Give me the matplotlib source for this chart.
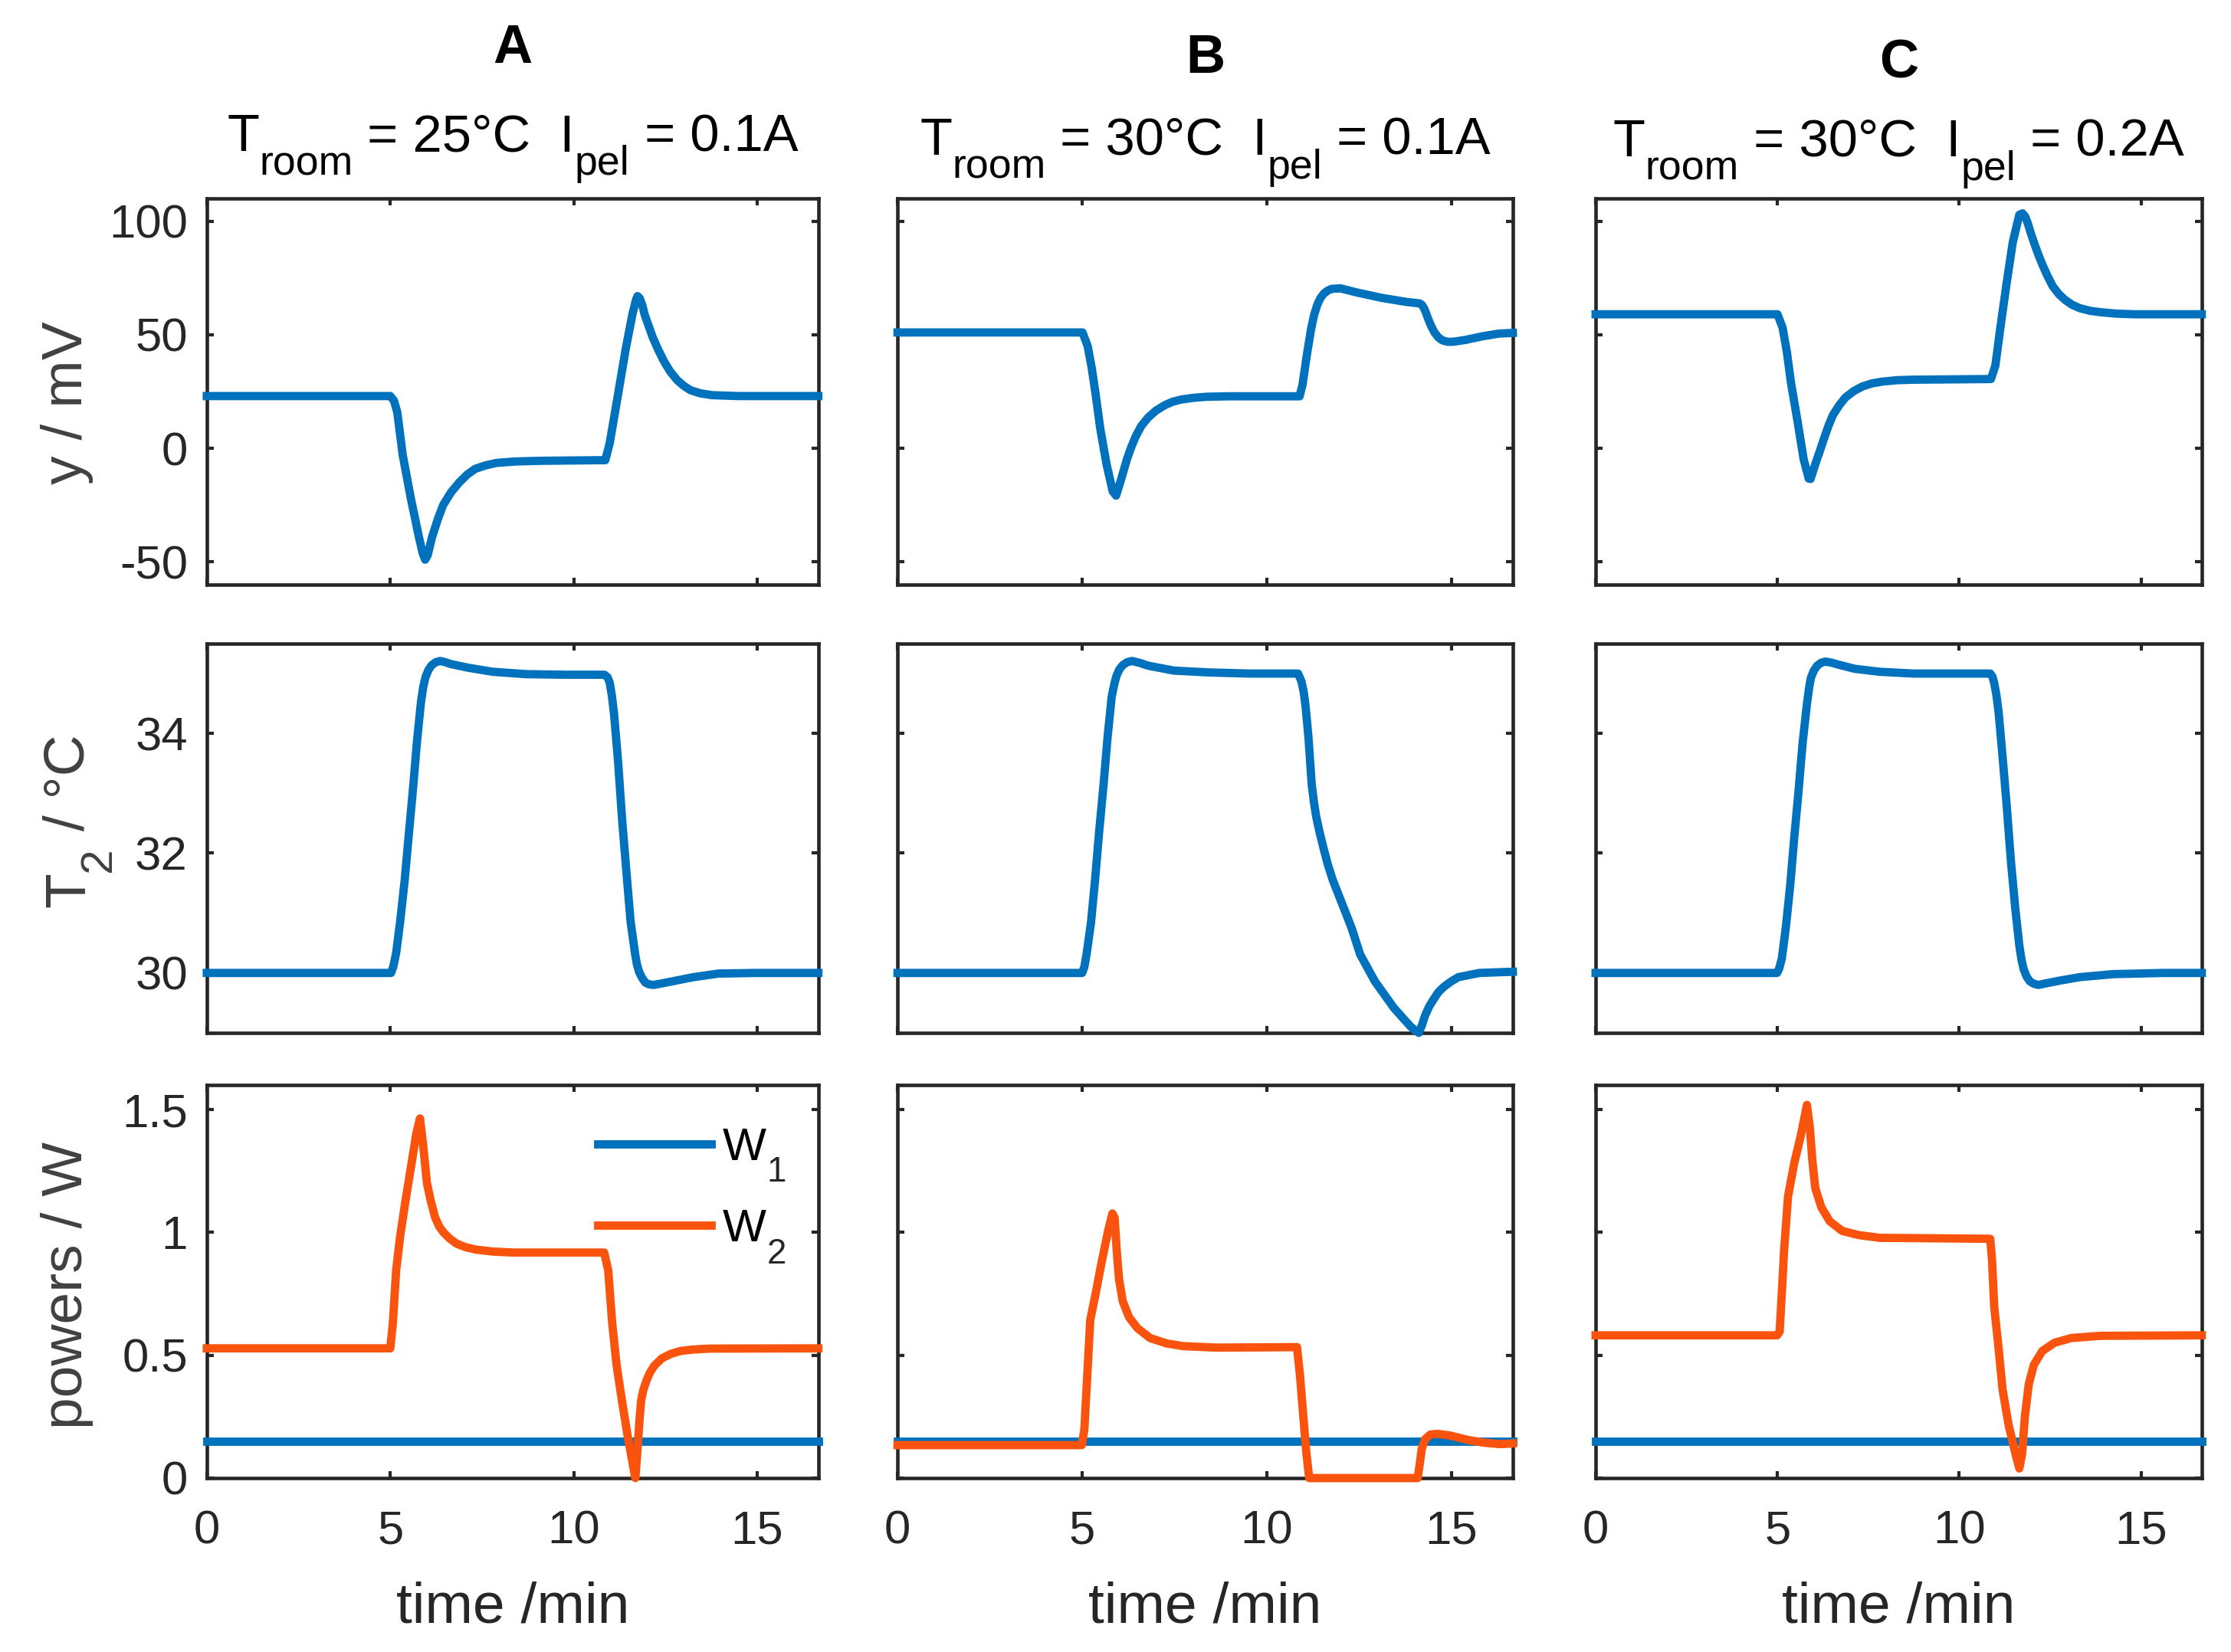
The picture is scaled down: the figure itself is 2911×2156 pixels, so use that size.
import numpy as np
import matplotlib
matplotlib.use('Agg')
import matplotlib.pyplot as plt
from matplotlib.ticker import FuncFormatter
from matplotlib.transforms import IdentityTransform

plt.rcParams['font.family'] = ['Liberation Sans', 'DejaVu Sans']

# ---- datos (tiempo en min) ----
t_end = 1000 / 60

# A: Troom = 25 C, Ipel = 0.1 A
tA_y = [0, 5.0, 5.1, 5.19, 5.34, 5.56, 5.78, 5.88, 5.95, 6.02, 6.14, 6.3, 6.44, 6.65, 6.88, 7.1,
        7.32, 7.6, 7.9, 8.4, 9.07, 10.86, 10.98, 11.2, 11.42, 11.6, 11.7, 11.74, 11.8, 11.87, 11.93,
        12.05, 12.15, 12.3, 12.45, 12.62, 12.82, 13.0, 13.18, 13.45, 13.77, 14.5, t_end]
yA = [23, 23, 21, 16, -3, -22, -39, -46, -49, -47, -39, -31, -25, -19.5, -15, -11.5,
      -9, -7.5, -6.4, -5.8, -5.5, -5.2, 2.2, 23, 44, 59, 65.5, 67, 66, 63, 59,
      53.5, 49, 43.5, 38.6, 34, 30, 27.5, 25.6, 24.2, 23.4, 23, 23]

tA_T = [0, 5.02, 5.08, 5.16, 5.27, 5.39, 5.5, 5.62, 5.73, 5.84, 5.9, 5.96, 6.04, 6.13, 6.24, 6.36,
        6.5, 6.64, 7.1, 7.79, 8.7, 9.84, 10.84, 10.92, 10.98, 11.04, 11.1, 11.21, 11.32, 11.44,
        11.55, 11.67, 11.72, 11.78, 11.86, 11.95, 12.05, 12.18, 12.69, 13.26, 13.95, 14.98, t_end]
TA = [30.0, 30.0, 30.1, 30.33, 30.86, 31.53, 32.28, 33.08, 33.88, 34.54, 34.78, 34.94, 35.06,
      35.14, 35.19, 35.21, 35.19, 35.16, 35.1, 35.03, 34.99, 34.98, 34.98, 34.94, 34.85, 34.63,
      34.32, 33.52, 32.55, 31.66, 30.86, 30.33, 30.15, 30.02, 29.92, 29.84, 29.81, 29.8, 29.86,
      29.93, 29.99, 30.0, 30.0]

tA_W1 = [0, t_end]
W1A = [0.149, 0.149]
tA_W2 = [0, 5.0, 5.07, 5.16, 5.27, 5.41, 5.56, 5.71, 5.81, 5.9, 6.0, 6.1, 6.22, 6.33, 6.45, 6.62,
         6.81, 7.05, 7.33, 7.8, 8.36, 10.83, 10.94, 11.05, 11.17, 11.31, 11.46, 11.61, 11.68,
         11.72, 11.76, 11.8, 11.84, 11.9, 11.98, 12.08, 12.2, 12.4, 12.64, 12.9, 13.23, 13.7, t_end]
W2A = [0.528, 0.528, 0.63, 0.845, 0.985, 1.124, 1.263, 1.402, 1.464, 1.35, 1.2, 1.13, 1.062,
       1.025, 1.0, 0.975, 0.954, 0.94, 0.93, 0.922, 0.918, 0.918, 0.845, 0.628, 0.458, 0.319,
       0.18, 0.056, 0.0, 0.08, 0.164, 0.25, 0.319, 0.36, 0.396, 0.43, 0.458, 0.487, 0.505,
       0.517, 0.523, 0.527, 0.528]

# B: Troom = 30 C, Ipel = 0.1 A
tB_y = [0, 5.01, 5.15, 5.26, 5.37, 5.49, 5.66, 5.83, 5.92, 6.05, 6.22, 6.33, 6.45, 6.6, 6.79, 7.0,
        7.24, 7.45, 7.69, 8.0, 8.37, 9.0, 10.89, 10.97, 11.09, 11.2, 11.28, 11.37, 11.45, 11.54,
        11.65, 11.76, 12.0, 12.44, 13.12, 13.8, 14.14, 14.2, 14.25, 14.31, 14.37, 14.45, 14.54,
        14.65, 14.76, 14.9, 15.05, 15.38, 15.84, 16.29, t_end]
yB = [51, 51, 45, 35.4, 23.3, 8.8, -6.9, -19, -20.8, -14, -4.5, 0.5, 5.2, 9.8, 13.6, 16.6,
      19, 20.5, 21.5, 22.2, 22.7, 22.9, 22.9, 28, 41.4, 52.3, 58.5, 63.2, 66, 68,
      69.4, 70.2, 70.4, 68.6, 66.2, 64.4, 63.8, 63.2, 62, 59.8, 57.1, 54, 51.1,
      48.8, 47.5, 46.9, 46.9, 47.7, 49.3, 50.5, 50.8]

tB_T = [0, 5.0, 5.06, 5.12, 5.24, 5.35, 5.46, 5.58, 5.69, 5.8, 5.87, 5.93, 6.01, 6.1, 6.22, 6.35,
        6.55, 6.8, 7.48, 8.39, 9.52, 10.85, 10.94, 11.0, 11.05, 11.13, 11.22, 11.28, 11.34, 11.44,
        11.54, 11.66, 11.79, 12.02, 12.3, 12.53, 12.93, 13.44, 13.7, 13.89, 14.02, 14.12, 14.2,
        14.29, 14.4, 14.51, 14.65, 14.8, 15.0, 15.19, 15.76, t_end]
TB = [30.0, 30.0, 30.1, 30.31, 30.84, 31.55, 32.35, 33.14, 33.94, 34.61, 34.82, 34.96, 35.07,
      35.14, 35.19, 35.21, 35.18, 35.13, 35.05, 35.02, 35.0, 35.0, 34.87, 34.7, 34.47, 33.94,
      33.14, 32.85, 32.61, 32.33, 32.08, 31.8, 31.55, 31.19, 30.75, 30.31, 29.86, 29.42, 29.24,
      29.11, 29.04, 29.0, 29.12, 29.29, 29.44, 29.55, 29.68, 29.77, 29.86, 29.93, 30.0, 30.02]

tB_W1 = [0, t_end]
W1B = [0.149, 0.149]
tB_W2 = [0, 4.99, 5.06, 5.14, 5.22, 5.37, 5.54, 5.71, 5.82, 5.88, 5.94, 6.0, 6.1, 6.27, 6.5,
         6.84, 7.29, 7.74, 8.64, 10.82, 10.9, 10.99, 11.07, 11.15, 14.09, 14.15, 14.2, 14.29,
         14.43, 14.63, 14.97, 15.42, 15.88, 16.33, t_end]
W2B = [0.134, 0.134, 0.197, 0.42, 0.643, 0.754, 0.888, 1.01, 1.077, 1.06, 0.92, 0.81, 0.72,
       0.655, 0.61, 0.57, 0.548, 0.537, 0.531, 0.533, 0.42, 0.253, 0.108, 0.0, 0.0, 0.063,
       0.119, 0.158, 0.177, 0.18, 0.173, 0.156, 0.144, 0.138, 0.141]

# C: Troom = 30 C, Ipel = 0.2 A
tC_y = [0, 5.0, 5.14, 5.26, 5.37, 5.55, 5.72, 5.86, 5.91, 6.06, 6.18, 6.29, 6.4, 6.52, 6.7, 6.87,
        7.1, 7.33, 7.6, 7.9, 8.3, 8.71, 10.87, 10.99, 11.13, 11.3, 11.47, 11.65, 11.74, 11.81,
        11.88, 11.96, 12.05, 12.16, 12.28, 12.42, 12.57, 12.74, 12.91, 13.1, 13.31, 13.6, 13.89,
        14.3, 14.81, t_end]
yC = [59, 59, 53.2, 42.3, 29, 12.1, -4.8, -13.3, -13.5, -6, -0.5, 4.8, 9.8, 14.5, 19, 22.4,
      25.2, 27.2, 28.6, 29.4, 30, 30.2, 30.5, 36.3, 53.2, 72.6, 90.7, 102.8, 103.4, 102,
      99.2, 95, 90.7, 85.8, 81, 76, 71.3, 67.8, 65.3, 63.2, 61.7, 60.5, 59.9,
      59.3, 59, 59]

tC_T = [0, 4.99, 5.05, 5.12, 5.23, 5.35, 5.46, 5.58, 5.69, 5.81, 5.87, 5.92, 6.0, 6.09, 6.2, 6.32,
        6.5, 6.67, 7.12, 7.81, 8.73, 10.85, 10.91, 10.96, 11.02, 11.08, 11.19, 11.31, 11.42, 11.54,
        11.65, 11.71, 11.77, 11.85, 11.94, 12.05, 12.17, 12.74, 13.31, 14.23, 15.6, t_end]
TC = [30.0, 30.0, 30.08, 30.24, 30.76, 31.46, 32.25, 33.04, 33.83, 34.49, 34.76, 34.93, 35.05,
      35.13, 35.18, 35.2, 35.18, 35.15, 35.08, 35.03, 35.0, 35.0, 34.95, 34.84, 34.64, 34.36,
      33.61, 32.74, 31.86, 31.07, 30.46, 30.22, 30.06, 29.94, 29.86, 29.82, 29.8, 29.87, 29.93,
      29.98, 30.0, 30.0]

tC_W1 = [0, t_end]
W1C = [0.149, 0.149]
tC_W2 = [0, 4.99, 5.06, 5.12, 5.18, 5.29, 5.46, 5.64, 5.81, 5.89, 5.96, 6.04, 6.21, 6.44, 6.78,
         7.24, 7.81, 10.85, 10.9, 10.96, 11.08, 11.19, 11.36, 11.54, 11.65, 11.73, 11.8, 11.91,
         12.05, 12.28, 12.62, 13.08, 13.88, t_end]
W2C = [0.581, 0.581, 0.596, 0.753, 0.921, 1.146, 1.281, 1.393, 1.519, 1.427, 1.292, 1.18, 1.101,
       1.045, 1.006, 0.989, 0.978, 0.974, 0.888, 0.697, 0.528, 0.36, 0.213, 0.101, 0.039, 0.101,
       0.247, 0.382, 0.461, 0.517, 0.551, 0.57, 0.579, 0.581]

letras = ['A', 'B', 'C']
# piezas de texto: (texto, es_subindice)
titulos = [
    [('T', False), ('room', True), (' = 25°C  I', False), ('pel', True), (' = 0.1A', False)],
    [('T', False), ('room', True), (' = 30°C  I', False), ('pel', True), (' = 0.1A', False)],
    [('T', False), ('room', True), (' = 30°C  I', False), ('pel', True), (' = 0.2A', False)],
]
etiquetas_y = ['y / mV', None, 'powers / W']
etiqueta_T2 = [('T', False), ('2', True), (' / °C', False)]
ticks_y = [[-50, 0, 50, 100], [30, 32, 34], [0, 0.5, 1, 1.5]]
lims_y = [(-60, 110), (29, 35.5), (0, 1.6)]

datos = [
    [(tA_y, yA), (tB_y, yB), (tC_y, yC)],
    [(tA_T, TA), (tB_T, TB), (tC_T, TC)],
]
potencias = [(tA_W1, W1A, tA_W2, W2A), (tB_W1, W1B, tB_W2, W2B), (tC_W1, W1C, tC_W2, W2C)]

azul = '#0072BD'
naranja = '#F9530E'
gris = '#262626'
lw = 2.6
fs_tick = 14.8
fs_lab = 18

# posiciones de los ejes (fraccion de figura)
col_left = [0.0927, 0.4023, 0.7152]
col_w = [0.2741, 0.2758, 0.2717]
row_bot = [0.6461, 0.3748, 0.1053]
row_h = [0.2338, 0.2356, 0.2379]
tit_y = [0.9085, 0.9065, 0.9054]
letra_y = [0.962, 0.956, 0.953]
ylab_y = [0.47, 0.545, 0.49]

W_PX, H_PX, DPI = 2911, 2156, 300
fig = plt.figure(figsize=(W_PX / DPI, H_PX / DPI), dpi=DPI)
renderer = fig.canvas.get_renderer()
fmt = FuncFormatter(lambda v, p: f'{v:g}')


def ancho(s, size):
    # ancho en pixeles de s, contando espacios
    t1 = fig.text(0, 0, '|' + s + '|', fontsize=size)
    t2 = fig.text(0, 0, '||', fontsize=size)
    w = t1.get_window_extent(renderer).width - t2.get_window_extent(renderer).width
    t1.remove()
    t2.remove()
    return w


def texto_sub(x, y, piezas, size, rot=0, color='k', esc=0.78, caida=0.45):
    # estilo MATLAB: subindices grandes y bajos. x, y en pixeles
    tam = [size * esc if sub else size for s, sub in piezas]
    anchos = [ancho(s, fs) for (s, sub), fs in zip(piezas, tam)]
    pos = -sum(anchos) / 2
    d0 = caida * size * DPI / 72
    for (s, sub), fs, w in zip(piezas, tam, anchos):
        d = d0 if sub else 0
        if rot == 0:
            px, py = x + pos, y - d
        else:
            px, py = x + d, y + pos
        fig.text(px, py, s, fontsize=fs, color=color, rotation=rot, rotation_mode='anchor',
                 ha='left', va='baseline', transform=IdentityTransform())
        pos += w


leyenda = None
for c in range(3):
    for r in range(3):
        ax = fig.add_axes([col_left[c], row_bot[r], col_w[c], row_h[r]])
        if r < 2:
            t, v = datos[r][c]
            ax.plot(t, v, color=azul, lw=lw, clip_on=False, zorder=3, solid_joinstyle='round')
        else:
            t1, w1, t2, w2 = potencias[c]
            ax.plot(t1, w1, color=azul, lw=lw, clip_on=False, zorder=3, label='W')
            ax.plot(t2, w2, color=naranja, lw=lw, clip_on=False, zorder=3, label='W',
                    solid_joinstyle='round')
        ax.set_xlim(0, t_end)
        ax.set_ylim(*lims_y[r])
        ax.set_xticks([0, 5, 10, 15])
        ax.set_yticks(ticks_y[r])
        ax.xaxis.set_major_formatter(fmt)
        ax.yaxis.set_major_formatter(fmt)
        ax.tick_params(direction='in', top=True, right=True, length=2.2, width=1.0,
                       labelsize=fs_tick, colors=gris)
        ax.tick_params(axis='x', pad=10)
        ax.tick_params(axis='y', pad=6)
        for s in ax.spines.values():
            s.set_linewidth(1.1)
            s.set_color(gris)
        if r < 2:
            ax.tick_params(labelbottom=False)
        else:
            ax.set_xlabel('time /min', fontsize=fs_lab, color=gris)
            ax.xaxis.set_label_coords(0.5, -0.262)
        if c > 0:
            ax.tick_params(labelleft=False)
        elif etiquetas_y[r] is not None:
            ax.set_ylabel(etiquetas_y[r], fontsize=fs_lab, color='#404040', va='top')
            ax.yaxis.set_label_coords(-0.272, ylab_y[r])
        if r == 2 and c == 0:
            leyenda = ax.legend(loc='upper left', bbox_to_anchor=(0.639, 0.893), frameon=False,
                                fontsize=14.5, handlelength=2.45, handletextpad=0.25,
                                labelspacing=0.85, borderpad=0, borderaxespad=0)

    cx = (col_left[c] + col_w[c] / 2) * W_PX
    texto_sub(cx, tit_y[c] * H_PX, titulos[c], 16.5)
    fig.text(cx / W_PX, letra_y[c], letras[c], ha='center', va='baseline', fontsize=17,
             fontweight='bold', color='k')

# etiqueta T2 (fila central, columna A), rotada
ax_T = fig.axes[1]
bb = ax_T.get_position()
texto_sub(110, (bb.y0 + bb.height * ylab_y[1]) * H_PX, etiqueta_T2, fs_lab, rot=90, color='#404040')

# subindices de la leyenda
fig.canvas.draw()
for txt, sub in zip(leyenda.get_texts(), ['1', '2']):
    ext = txt.get_window_extent(renderer)
    _, _, d_lp = renderer.get_text_width_height_descent('lp', txt.get_fontproperties(), ismath=False)
    fig.text(ext.x1 + 1, ext.y0 + d_lp - 0.47 * 14.5 * DPI / 72, sub, fontsize=14.5 * 0.76,
             color=gris, ha='left', va='baseline', transform=IdentityTransform())

fig.savefig('out.png', dpi=DPI, facecolor='white')
